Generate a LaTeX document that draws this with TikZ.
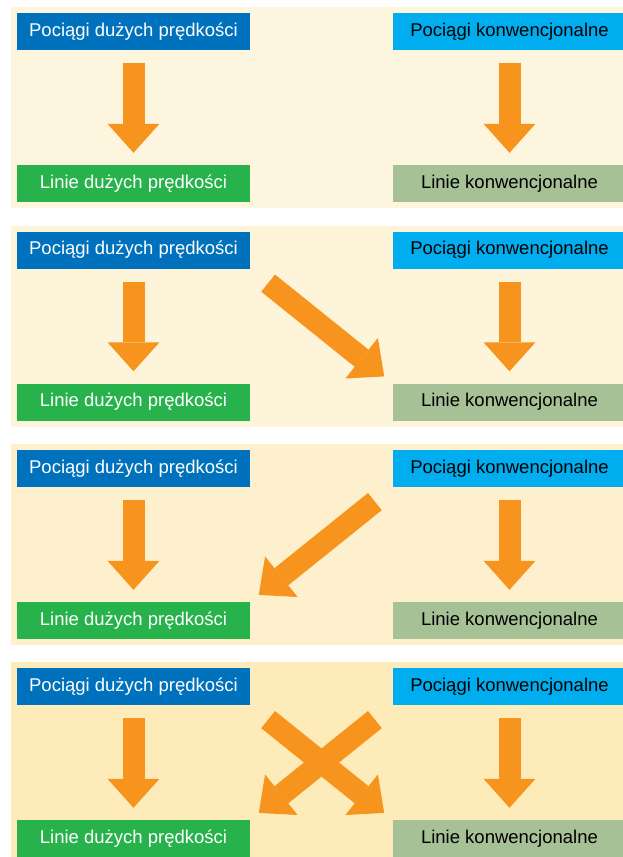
\documentclass[tikz,border=0pt]{standalone}
\usepackage{fontspec}
\setmainfont{Liberation Sans}
\usetikzlibrary{arrows.meta}
\definecolor{hsblue}{HTML}{0071BC}
\definecolor{convblue}{HTML}{00AEEF}
\definecolor{hsgreen}{HTML}{27B24C}
\definecolor{convgreen}{HTML}{A6C196}
\definecolor{arroworange}{HTML}{F7941D}
\definecolor{bgone}{HTML}{FDF5DD}
\definecolor{bgtwo}{HTML}{FDF4DA}
\definecolor{bgthree}{HTML}{FEF0CC}
\definecolor{bgfour}{HTML}{FEEBBA}

\begin{document}
\begin{tikzpicture}[x=1pt,y=-1pt,
    box/.style={minimum width=233pt,minimum height=37pt,inner sep=0pt,
                font=\fontsize{18.5}{20}\selectfont},
    hstrain/.style={box,fill=hsblue,text=white},
    convtrain/.style={box,fill=convblue,text=black},
    hsline/.style={box,fill=hsgreen,text=white},
    convline/.style={box,fill=convgreen,text=black},
    bigarrow/.style={draw=arroworange,line width=22pt,
                     -{Triangle[length=29pt,width=52pt,line width=0pt,fill=arroworange]},
                     shorten <=13pt,shorten >=12pt},
    crossarrow/.style={bigarrow,shorten <=23pt,shorten >=11pt}]
    \useasboundingbox (0,0) rectangle (623,857);
    % panels
    \fill[bgone] (11,7) rectangle (630,208);
    \fill[bgtwo] (11,225.5) rectangle (630,426.5);
    \fill[bgthree] (11,444) rectangle (630,645);
    \fill[bgfour] (11,662) rectangle (630,870);
    % panel 1
    \node[hstrain] (hstrain1) at (133.5,31.5) {Pociągi dużych prędkości};
    \node[convtrain] (convtrain1) at (509.5,31.5) {Pociągi konwencjonalne};
    \node[hsline] (hsline1) at (133.5,183.5) {Linie dużych prędkości};
    \node[convline] (convline1) at (509.5,183.5) {Linie konwencjonalne};
    \draw[bigarrow] (hstrain1) -- (hsline1);
    \draw[bigarrow] (convtrain1) -- (convline1);
    % panel 2
    \node[hstrain] (hstrain2) at (133.5,250) {Pociągi dużych prędkości};
    \node[convtrain] (convtrain2) at (509.5,250) {Pociągi konwencjonalne};
    \node[hsline] (hsline2) at (133.5,402) {Linie dużych prędkości};
    \node[convline] (convline2) at (509.5,402) {Linie konwencjonalne};
    \draw[bigarrow] (hstrain2) -- (hsline2);
    \draw[bigarrow] (convtrain2) -- (convline2);
    \draw[crossarrow] (hstrain2.south east) -- (convline2.north west);
    % panel 3
    \node[hstrain] (hstrain3) at (133.5,468.5) {Pociągi dużych prędkości};
    \node[convtrain] (convtrain3) at (509.5,468.5) {Pociągi konwencjonalne};
    \node[hsline] (hsline3) at (133.5,620.5) {Linie dużych prędkości};
    \node[convline] (convline3) at (509.5,620.5) {Linie konwencjonalne};
    \draw[bigarrow] (hstrain3) -- (hsline3);
    \draw[bigarrow] (convtrain3) -- (convline3);
    \draw[crossarrow] (convtrain3.south west) -- (hsline3.north east);
    % panel 4
    \node[hstrain] (hstrain4) at (133.5,686.5) {Pociągi dużych prędkości};
    \node[convtrain] (convtrain4) at (509.5,686.5) {Pociągi konwencjonalne};
    \node[hsline] (hsline4) at (133.5,838.5) {Linie dużych prędkości};
    \node[convline] (convline4) at (509.5,838.5) {Linie konwencjonalne};
    \draw[bigarrow] (hstrain4) -- (hsline4);
    \draw[bigarrow] (convtrain4) -- (convline4);
    \draw[crossarrow] (hstrain4.south east) -- (convline4.north west);
    \draw[crossarrow] (convtrain4.south west) -- (hsline4.north east);
\end{tikzpicture}
\end{document}
